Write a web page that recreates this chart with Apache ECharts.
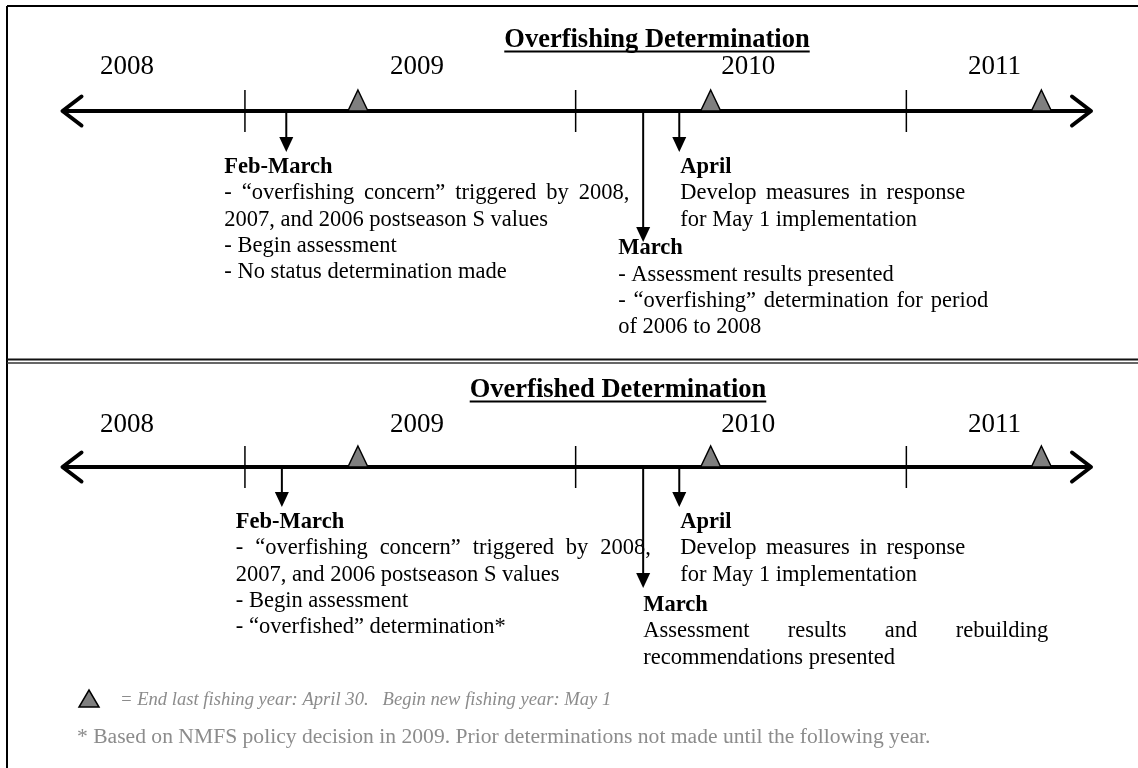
<!DOCTYPE html>
<html><head><meta charset="utf-8">
<script src="https://cdn.jsdelivr.net/npm/echarts@6/dist/echarts.min.js"></script>
<style>html,body{margin:0;padding:0;background:#fff}#c{width:1138px;height:768px}</style>
</head><body><div id="c"></div>
<script>
// ---- data (x unit: months since 1 Jan 2008) ----
const years = ['2008', '2009', '2010', '2011'];
const yearLabelMonths = [7.72, 18.24, 30.26, 39.2];
const yearBoundaryMonths = [12, 24, 36];
const fishingYearEndMonths = [16.1, 28.9, 40.9];
const eventNames = ['Feb-March', 'April', 'March'];
const topEventMonths = [13.5, 27.76, 26.45];
const botEventMonths = [13.34, 27.76, 26.45];
const panelTitles = ['Overfishing Determination', 'Overfished Determination'];
const topFebLines = ['- \u201coverfishing concern\u201d triggered by 2008,', '2007, and 2006 postseason S values', '- Begin assessment', '- No status determination made'];
const topAprLines = ['Develop measures in response', 'for May 1 implementation'];
const topMarLines = ['- Assessment results presented', '- \u201coverfishing\u201d determination for period', 'of 2006 to 2008'];
const botFebLines = ['- \u201coverfishing concern\u201d triggered by 2008,', '2007, and 2006 postseason S values', '- Begin assessment', '- \u201coverfished\u201d determination*'];
const botAprLines = ['Develop measures in response', 'for May 1 implementation'];
const botMarLines = ['Assessment results and rebuilding', 'recommendations presented'];
const topJustify = [[1, 0, 0, 0], [1, 0], [0, 1, 0]];
const botJustify = [[1, 0, 0, 0], [1, 0], [1, 0]];
const legendText = '= End last fishing year: April 30.   Begin new fishing year: May 1';
const footnoteText = '* Based on NMFS policy decision in 2009. Prior determinations not made until the following year.';

// ---- layout ----
const X_MIN = 5.38, X_MAX = 42.7;
const SERIF = '"Liberation Serif", "Times New Roman", serif';
const BODY = '22.5px ' + SERIF;
const BOLD = 'bold 22.5px ' + SERIF;
const LINE_H = 26.3;
const panels = [
  { top: 0, height: 361, axis: 111, title: 40, titleX: 657, year: 67, months: topEventMonths,
    lines: [topFebLines, topAprLines, topMarLines], just: topJustify,
    ev: [{len: 41, dx: -62, hy: 56, w: 405}, {len: 41, dx: 1, hy: 56, w: 285}, {len: 131, dx: -25, hy: 137.5, w: 370}] },
  { top: 361, height: 407, axis: 467, title: 390, titleX: 618, year: 425, months: botEventMonths,
    lines: [botFebLines, botAprLines, botMarLines], just: botJustify,
    ev: [{len: 40, dx: -46, hy: 55, w: 415}, {len: 40, dx: 1, hy: 55, w: 285}, {len: 121, dx: 0, hy: 138, w: 405}] }
];

const mctx = document.createElement('canvas').getContext('2d');
function tw(t, f) { mctx.font = f; return mctx.measureText(t).width; }

function lineElems(text, x, y, font, width, justify) {
  const words = text.split(' ');
  const ws = words.map(w => tw(w, font));
  const sum = ws.reduce((a, b) => a + b, 0);
  const space = tw(' ', font);
  let gap = justify && words.length > 1 ? (width - sum) / (words.length - 1) : space;
  if (gap < space) gap = space;
  if (!justify || gap === space) return [{type: 'text', x: x, y: y, style: {text: text, font: font, fill: '#000', verticalAlign: 'middle'}}];
  const out = [];
  let cx = x;
  words.forEach((w, k) => {
    out.push({type: 'text', x: cx, y: y, style: {text: w, font: font, fill: '#000', verticalAlign: 'middle'}});
    cx += ws[k] + gap;
  });
  return out;
}

const grids = [], xAxes = [], yAxes = [], series = [];
panels.forEach((P, pi) => {
  grids.push({left: 62.5, width: 1028.5, top: P.top, height: P.height});
  xAxes.push({type: 'value', gridIndex: pi, min: X_MIN, max: X_MAX, show: false});
  yAxes.push({type: 'value', gridIndex: pi, min: P.top, max: P.top + P.height, inverse: true, show: false});
  // timeline with open arrow heads
  series.push({type: 'custom', xAxisIndex: pi, yAxisIndex: pi, data: [[X_MIN, X_MAX]], silent: true,
    renderItem: (params, api) => {
      const a = api.coord([api.value(0), P.axis]);
      const b = api.coord([api.value(1), P.axis]);
      const st = {stroke: '#000', lineWidth: 4, lineCap: 'round', lineJoin: 'round', fill: null};
      return {type: 'group', children: [
        {type: 'line', shape: {x1: a[0] + 2, y1: a[1], x2: b[0] - 2, y2: b[1]}, style: st},
        {type: 'polyline', shape: {points: [[a[0] + 19, a[1] - 14.5], [a[0], a[1]], [a[0] + 19, a[1] + 14.5]]}, style: st},
        {type: 'polyline', shape: {points: [[b[0] - 19, b[1] - 14.5], [b[0], b[1]], [b[0] - 19, b[1] + 14.5]]}, style: st}
      ]};
    }});
  // year boundary ticks
  series.push({type: 'custom', xAxisIndex: pi, yAxisIndex: pi, data: yearBoundaryMonths.map(m => [m]), silent: true,
    renderItem: (params, api) => {
      const p = api.coord([api.value(0), P.axis]);
      return {type: 'line', shape: {x1: p[0], y1: p[1] - 21, x2: p[0], y2: p[1] + 21}, style: {stroke: '#000', lineWidth: 1.5}};
    }});
  // year labels
  series.push({type: 'custom', xAxisIndex: pi, yAxisIndex: pi, data: yearLabelMonths.map((m, i) => [m, i]), silent: true,
    renderItem: (params, api) => {
      const p = api.coord([api.value(0), P.year]);
      return {type: 'text', x: p[0], y: p[1], style: {text: years[params.dataIndex], font: '27px ' + SERIF, fill: '#000', align: 'center', verticalAlign: 'middle'}};
    }});
  // fishing-year end triangles
  series.push({type: 'scatter', xAxisIndex: pi, yAxisIndex: pi, data: fishingYearEndMonths.map(m => [m, P.axis]), silent: true,
    symbol: 'triangle', symbolSize: [20, 21], symbolOffset: [0, '-50%'],
    itemStyle: {color: '#7f7f7f', borderColor: '#000', borderWidth: 1.5, opacity: 1}, z: 3});
  // events: arrows + text blocks
  series.push({type: 'custom', xAxisIndex: pi, yAxisIndex: pi, data: P.months.map((m, i) => [m, i]), silent: true, z: 4,
    renderItem: (params, api) => {
      const i = params.dataIndex;
      const E = P.ev[i];
      const base = api.coord([api.value(0), P.axis]);
      const tip = base[1] + E.len;
      const ch = [
        {type: 'line', shape: {x1: base[0], y1: base[1], x2: base[0], y2: tip - 10}, style: {stroke: '#000', lineWidth: 2}},
        {type: 'polygon', shape: {points: [[base[0] - 7, tip - 15], [base[0] + 7, tip - 15], [base[0], tip]]}, style: {fill: '#000'}}
      ];
      const tx = base[0] + E.dx;
      let ty = base[1] + E.hy;
      ch.push({type: 'text', x: tx, y: ty, style: {text: eventNames[i], font: BOLD, fill: '#000', verticalAlign: 'middle'}});
      P.lines[i].forEach((ln, k) => {
        ty += LINE_H;
        lineElems(ln, tx, ty, BODY, E.w, P.just[i][k]).forEach(e => ch.push(e));
      });
      return {type: 'group', children: ch};
    }});
});

// titles with underline
const graphics = [];
panelTitles.forEach((t, i) => {
  const P = panels[i];
  const f = 'bold 26.5px ' + SERIF;
  const w = tw(t, f);
  graphics.push({type: 'text', x: P.titleX, y: P.title, style: {text: t, font: f, fill: '#000', align: 'center', verticalAlign: 'middle'}});
  graphics.push({type: 'line', shape: {x1: P.titleX - w / 2, y1: P.title + 11.5, x2: P.titleX + w / 2, y2: P.title + 11.5}, style: {stroke: '#000', lineWidth: 2}});
});
// borders
const bs = {stroke: '#000', lineWidth: 2};
graphics.push({type: 'line', shape: {x1: 7, y1: 6, x2: 1138, y2: 6}, style: bs});
graphics.push({type: 'line', shape: {x1: 7, y1: 6, x2: 7, y2: 768}, style: bs});
graphics.push({type: 'line', shape: {x1: 7, y1: 359.5, x2: 1138, y2: 359.5}, style: {stroke: '#111', lineWidth: 2}});
graphics.push({type: 'line', shape: {x1: 7, y1: 363, x2: 1138, y2: 363}, style: {stroke: '#333', lineWidth: 1.5}});
// legend
graphics.push({type: 'polygon', shape: {points: [[79, 707], [99, 707], [89, 690]]}, style: {fill: '#7f7f7f', stroke: '#000', lineWidth: 1.5}});
graphics.push({type: 'text', x: 120, y: 700, style: {text: legendText, font: 'italic 18.6px ' + SERIF, fill: '#8c8c8c', verticalAlign: 'middle'}});
graphics.push({type: 'text', x: 77, y: 737, style: {text: footnoteText, font: '21.6px ' + SERIF, fill: '#8c8c8c', verticalAlign: 'middle'}});

const chart = echarts.init(document.getElementById('c'), null, {renderer: 'canvas'});
chart.setOption({
  animation: false,
  backgroundColor: '#fff',
  grid: grids, xAxis: xAxes, yAxis: yAxes, series: series,
  graphic: graphics
});
</script></body></html>
